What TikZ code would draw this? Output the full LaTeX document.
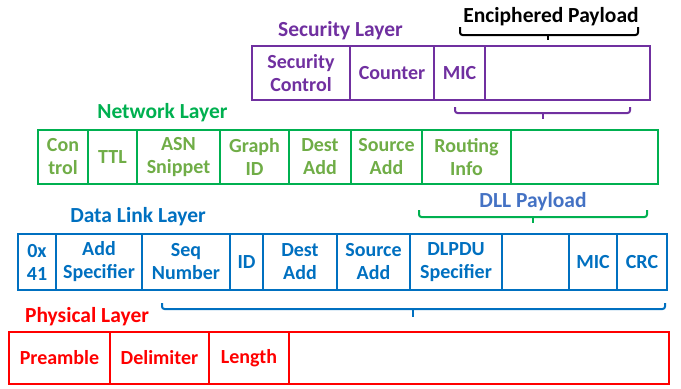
\documentclass[tikz,border=0pt]{standalone}
\usepackage{fontspec}
\setmainfont{Carlito}
\definecolor{secpur}{HTML}{7030A0}
\definecolor{netgrn}{HTML}{00B050}
\definecolor{nettxt}{HTML}{70AD47}
\definecolor{dllblu}{HTML}{0070C0}
\definecolor{dllpay}{HTML}{4472C4}
\definecolor{phyred}{HTML}{FF0000}
\begin{document}
\begin{tikzpicture}[x=1bp,y=-1bp,
  fld/.style={draw, line width=1.8bp, inner sep=0pt, align=center,
    font=\fontsize{20bp}{23bp}\selectfont\bfseries},
  secf/.style={fld, draw=secpur, text=secpur, minimum height=54bp},
  netf/.style={fld, draw=netgrn, text=nettxt, minimum height=54bp},
  dllf/.style={fld, draw=dllblu, text=dllblu, minimum height=56bp},
  phyf/.style={fld, draw=phyred, text=phyred, minimum height=52bp},
  ttl/.style={inner sep=0pt, anchor=base, font=\fontsize{21.5bp}{24bp}\selectfont\bfseries},
  brc/.style={line width=2bp, rounded corners=2.5bp},
  tip/.style={line width=2.4bp}
]
\useasboundingbox (0,0) rectangle (681,388);

% Security layer
\node[ttl, text=secpur] (tsec) at (340.5,36) {Security Layer};
\node[ttl, text=black] (tenc) at (551,22) {Enciphered Payload};
\node[secf, minimum width=98bp] (sc) at (301,73) {Security\\Control};
\node[secf, minimum width=84bp] (ctr) at (392,73) {Counter};
\node[secf, minimum width=51bp] (smic) at (459.5,73) {MIC};
\node[secf, minimum width=165bp] (senc) at (567.5,73) {};

% Network layer
\node[ttl, text=netgrn] (tnet) at (162.5,118) {Network Layer};
\node[netf, minimum width=50bp] (ncon) at (63,157) {Con\\trol};
\node[netf, minimum width=49bp] (nttl) at (112.5,157) {TTL};
\node[netf, minimum width=83bp] (nasn) at (178.5,157) {ASN\\Snippet};
\node[netf, minimum width=69bp] (ngid) at (254.5,157) {Graph\\ID};
\node[netf, minimum width=62bp] (ndst) at (320,157) {Dest\\Add};
\node[netf, minimum width=71bp] (nsrc) at (386.5,157) {Source\\Add};
\node[netf, minimum width=89bp] (nrt) at (466.5,157) {Routing\\Info};
\node[netf, minimum width=147bp] (npl) at (584.5,157) {};

% Data link layer
\node[ttl, text=dllpay] (tdpl) at (533,207) {DLL Payload};
\node[ttl, text=dllblu] (tdll) at (138,222) {Data Link Layer};
\node[dllf, minimum width=38bp] (d41) at (37,262) {0x\\41};
\node[dllf, minimum width=86bp] (dadd) at (99,262) {Add\\Specifier};
\node[dllf, minimum width=88bp] (dseq) at (186,262) {Seq\\Number};
\node[dllf, minimum width=33bp] (did) at (246.5,262) {ID};
\node[dllf, minimum width=74bp] (ddst) at (300,262) {Dest\\Add};
\node[dllf, minimum width=73bp] (dsrc) at (373.5,262) {Source\\Add};
\node[dllf, minimum width=92bp] (dlp) at (456,262) {DLPDU\\Specifier};
\node[dllf, minimum width=67bp] (dpl) at (535.5,262) {};
\node[dllf, minimum width=48bp] (dmic) at (593,262) {MIC};
\node[dllf, minimum width=50bp] (dcrc) at (642,262) {CRC};

% Physical layer
\node[ttl, text=phyred] (tphy) at (87,322) {Physical Layer};
\node[phyf, minimum width=101bp] (pre) at (59.5,358) {Preamble};
\node[phyf, minimum width=99bp] (del) at (159.5,358) {Delimiter};
\node[phyf, minimum width=80bp] (len) at (249,358) {Length};
\node[phyf, minimum width=380bp] (ppl) at (479,358) {};

% Braces
\coordinate (bkL) at (460,27); \coordinate (bkM) at (548,35);
\coordinate (bkR) at (638,27); \coordinate (bkT) at (548,40);
\draw[brc, black] (bkL) |- (bkM) -| (bkR);
\draw[tip, black] (bkM) -- (bkT);

\coordinate (puL) at (455,107); \coordinate (puM) at (543,113);
\coordinate (puR) at (630,107); \coordinate (puT) at (543,119);
\draw[brc, secpur] (puL) |- (puM) -| (puR);
\draw[tip, secpur] (puM) -- (puT);

\coordinate (grL) at (419,210); \coordinate (grM) at (533,217);
\coordinate (grR) at (647,210); \coordinate (grT) at (533,223);
\draw[brc, netgrn] (grL) |- (grM) -| (grR);
\draw[tip, netgrn] (grM) -- (grT);

\coordinate (blL) at (162,303); \coordinate (blM) at (413,309);
\coordinate (blR) at (665,303); \coordinate (blT) at (413,317);
\draw[brc, dllblu] (blL) |- (blM) -| (blR);
\draw[tip, dllblu] (blM) -- (blT);
\end{tikzpicture}
\end{document}
